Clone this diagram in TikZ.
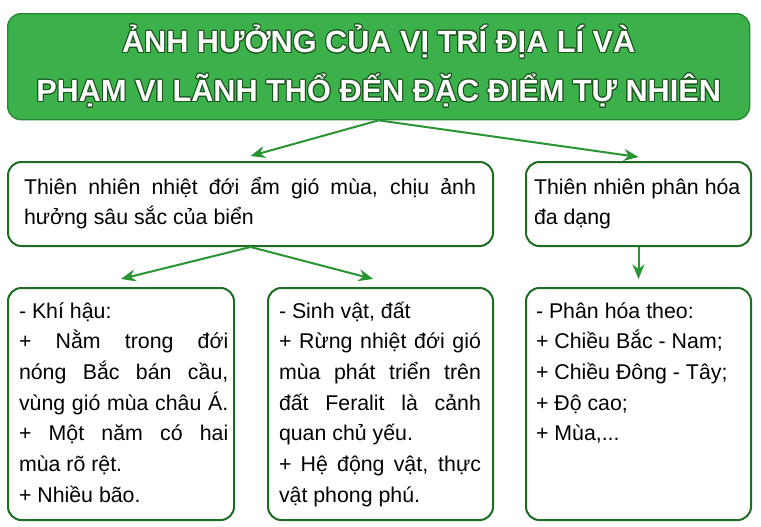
\documentclass[tikz,border=0pt]{standalone}
\usepackage{fontspec}
\setmainfont{Liberation Sans}
\usepackage{contour}
\usetikzlibrary{arrows.meta}

\definecolor{titleGreen}{RGB}{60,176,74}
\definecolor{titleBorder}{RGB}{36,136,48}
\definecolor{boxBorder}{RGB}{30,108,34}
\definecolor{arrowGreen}{RGB}{42,148,52}
\definecolor{titleShade}{RGB}{28,84,30}
\contourlength{0.75pt}

% one justified line
\newcommand{\jline}[1]{\makebox[\linewidth][s]{#1}}
% box content: width, height, left pad, text width, first baseline, lines
\newcommand{\boxtext}[6]{\parbox[c][#2][t]{#1}{\hspace*{#3}\parbox[t]{#4}{\fontsize{16pt}{23pt}\selectfont\rule{0pt}{#5}#6}}}

\tikzset{
	titlebox/.style={rectangle, rounded corners=10pt, draw=titleBorder, line width=1pt,
		fill=titleGreen, text=white, anchor=north west, align=center,
		minimum width=556.5pt, minimum height=79.5pt, inner sep=0pt,
		font=\bfseries\fontsize{23pt}{36.75pt}\selectfont},
	infobox/.style={rectangle, rounded corners=10pt, draw=boxBorder, line width=1.5pt,
		fill=white, anchor=north west, inner sep=0pt},
	arrowLine/.style={draw=arrowGreen, line width=1.5pt,
		-{Stealth[length=11pt,width=9pt]}, fill=arrowGreen}
}

\begin{document}
\begin{tikzpicture}[x=0.75pt,y=-0.75pt]

	\useasboundingbox (0,0) rectangle (761,526);

	%Title
	\node (title) at (7,13) [titlebox]
		{\contour{titleShade}{ẢNH HƯỞNG CỦA VỊ TRÍ ĐỊA LÍ VÀ}\\
		 \contour{titleShade}{PHẠM VI LÃNH THỔ ĐẾN ĐẶC ĐIỂM TỰ NHIÊN}};

	%Middle boxes
	\node (boxA) at (7,161) [infobox]
		{\boxtext{363.75pt}{63pt}{12pt}{339pt}{24pt}{%
		\jline{Thiên nhiên nhiệt đới ẩm gió mùa, chịu ảnh}\\
		hưởng sâu sắc của biển}};
	\node (boxB) at (525,161) [infobox]
		{\boxtext{168.75pt}{63pt}{6pt}{158pt}{24pt}{%
		Thiên nhiên phân hóa\\
		đa dạng}};

	%Bottom boxes
	\node (boxC) at (7,287) [infobox]
		{\boxtext{169.5pt}{174pt}{8.25pt}{157pt}{22.5pt}{%
		- Khí hậu:\\
		\jline{+ Nằm trong đới}\\
		\jline{nóng Bắc bán cầu,}\\
		\jline{vùng gió mùa châu Á.}\\
		\jline{+ Một năm có hai}\\
		mùa rõ rệt.\\
		+ Nhiều bão.}};
	\node (boxD) at (267,287) [infobox]
		{\boxtext{168.75pt}{174pt}{8.25pt}{151.5pt}{22.5pt}{%
		- Sinh vật, đất\\
		\jline{+ Rừng nhiệt đới gió}\\
		\jline{mùa phát triển trên}\\
		\jline{đất Feralit là cảnh}\\
		quan chủ yếu.\\
		\jline{+ Hệ động vật, thực}\\
		vật phong phú.}};
	\node (boxE) at (525,287) [infobox]
		{\boxtext{168.75pt}{174pt}{7.5pt}{155pt}{22.5pt}{%
		- Phân hóa theo:\\
		+ Chiều Bắc - Nam;\\
		+ Chiều Đông - Tây;\\
		+ Độ cao;\\
		+ Mùa,...}};

	%Arrows
	\draw[arrowLine] (title.south) -- ([yshift=3.75pt]boxA.north);
	\draw[arrowLine] (title.south) -- ([yshift=3pt]boxB.north);
	\draw[arrowLine] (boxA.south) -- ([yshift=6pt]boxC.north);
	\draw[arrowLine] (boxA.south) -- ([xshift=-5.5pt,yshift=6pt]boxD.north);
	\draw[arrowLine] (boxB.south) -- ([yshift=6pt]boxE.north);

\end{tikzpicture}
\end{document}
